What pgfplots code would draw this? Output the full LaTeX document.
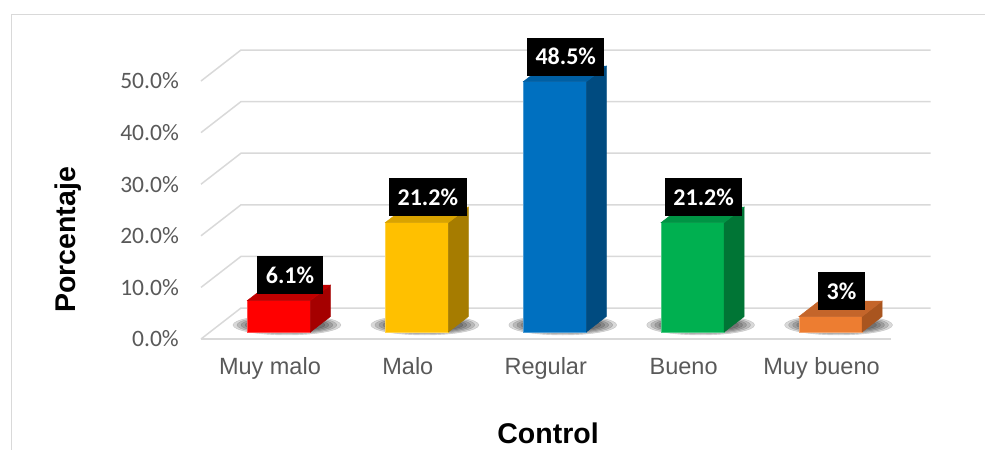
\documentclass[border=0pt]{standalone}
\usepackage{pgfplots}
\usepackage{pgfplotstable}
\pgfplotsset{compat=1.18}
\usepackage{fontspec}
\setmainfont{Liberation Sans}
\newfontfamily\carlito{Carlito}

\definecolor{gridgray}{HTML}{D9D9D9}
\definecolor{labelgray}{HTML}{595959}
% front / top / side of each bar
\definecolor{f0}{HTML}{FF0000}\definecolor{t0}{HTML}{C00000}\definecolor{s0}{HTML}{A50000}
\definecolor{f1}{HTML}{FFC000}\definecolor{t1}{HTML}{D9A300}\definecolor{s1}{HTML}{A67C00}
\definecolor{f2}{HTML}{0070C0}\definecolor{t2}{HTML}{005FA3}\definecolor{s2}{HTML}{004B80}
\definecolor{f3}{HTML}{00B050}\definecolor{t3}{HTML}{009444}\definecolor{s3}{HTML}{007535}
\definecolor{f4}{HTML}{ED7D31}\definecolor{t4}{HTML}{C4652A}\definecolor{s4}{HTML}{A9551F}

\pgfplotstableread{
x  y
0  6.1
1  21.2
2  48.5
3  21.2
4  3
}\datatable

\pgfdeclareplotmark{none3d}{}

\begin{document}
\begin{tikzpicture}
\useasboundingbox (-201bp,-111bp) rectangle (784bp,339bp);
\draw[gridgray, line width=1bp] (-189.5bp,-111bp) -- (-189.5bp,324.5bp) -- (784bp,324.5bp);
\begin{axis}[
  at={(0,0)}, anchor=south west,
  x=137.9bp, y=5.16bp,
  xmin=-0.5, xmax=4.5, ymin=0, ymax=50,
  clip=false,
  axis line style={draw=none},
  tick style={draw=none},
  /pgf/number format/assume math mode=true,
  xtick={0,...,4},
  xticklabels={Muy malo,Malo,Regular,Bueno,Muy bueno},
  xticklabel style={font=\fontsize{23.5bp}{28bp}\selectfont, text=labelgray,
    anchor=base, inner sep=0pt, yshift=-35bp},
  ytick={0,10,...,50},
  yticklabel={\pgfmathprintnumber[fixed,fixed zerofill,precision=1]{\tick}\%},
  yticklabel style={font=\carlito\fontsize{23.5bp}{28bp}\selectfont, text=labelgray,
    anchor=east, inner sep=0pt, xshift=-22bp},
  xlabel={Control},
  ylabel={Porcentaje},
  label style={font=\bfseries\fontsize{28.5bp}{34bp}\selectfont, text=black},
  xlabel style={at={(axis description cs:0.5033,-0.4031)}, anchor=base},
  ylabel style={at={(axis description cs:-0.1929,0.3837)}, anchor=center},
]
% walls: back grid lines and left wall diagonals
\pgfplotsinvokeforeach{0,10,...,50}{
  \draw[gridgray, line width=1.5bp] (axis cs:-0.5,#1) -- ++(40bp,31bp) -- ++(689.5bp,0pt);
}
\draw[gridgray, line width=1.5bp] (axis cs:-0.5,0) -- (axis cs:4.5,0);

% 3D bars: shadow, front, side and top faces drawn at each data point
% (bar front plane sits 9bp right / 7bp up from the floor front edge)
\addplot[
  scatter, only marks, mark=none3d,
  point meta=\thisrow{y},
  visualization depends on={value \coordindex\as\ci},
  visualization depends on={\thisrow{y}\as\barval},
  scatter/@pre marker code/.code={%
    \pgfmathsetlengthmacro\barh{\barval*5.16bp}%
    \foreach \r/\q in {54/10,50/9,46/8,42/7,38/6}{%
      \fill[black,opacity=0.15] (17bp,14bp-\barh) ellipse [x radius=\r bp, y radius=\q bp];}
    \filldraw[fill=f\ci, draw=f\ci!70!white, line width=0.5bp]
      (-22.5bp,7bp) rectangle (40.5bp,7bp-\barh);
    \filldraw[fill=s\ci, draw=s\ci, line width=0.5bp]
      (40.5bp,7bp) -- (60.5bp,22.5bp) -- (60.5bp,22.5bp-\barh) -- (40.5bp,7bp-\barh) -- cycle;
    \filldraw[fill=t\ci, draw=t\ci, line width=0.5bp]
      (-22.5bp,7bp) -- (40.5bp,7bp) -- (60.5bp,22.5bp) -- (-2.5bp,22.5bp) -- cycle;
  },
  scatter/@post marker code/.code={},
] table[x=x, y=y] {\datatable};

% data labels
\addplot[
  only marks, mark=none3d,
  point meta=\thisrow{y},
  nodes near coords={\pgfmathprintnumber{\pgfplotspointmeta}\%},
  nodes near coords style={fill=black, text=white,
    font=\carlito\bfseries\fontsize{24bp}{24bp}\selectfont,
    anchor=south, xshift=20bp, yshift=13bp,
    inner xsep=8.5bp, inner ysep=11bp, text height=16bp, text depth=0pt},
] table[x=x, y=y] {\datatable};
\end{axis}
\end{tikzpicture}
\end{document}
